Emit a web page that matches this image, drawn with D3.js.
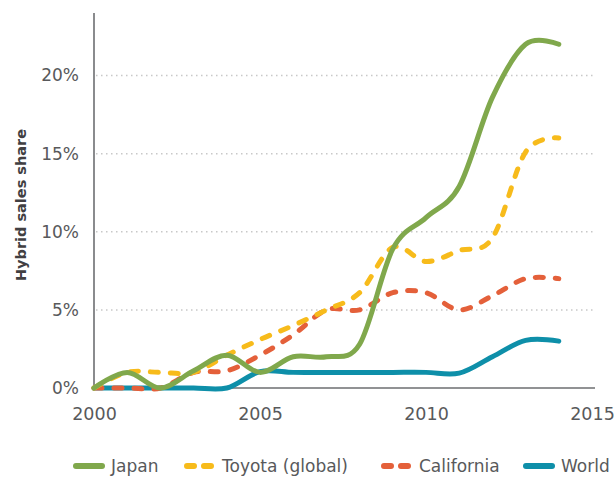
<!DOCTYPE html>
<html><head><meta charset="utf-8">
<script src="https://cdn.jsdelivr.net/npm/d3@7"></script>
<style>
html,body{margin:0;padding:0;background:#fff;}
svg{display:block;}
text{font-family:"DejaVu Sans", sans-serif;}
</style></head>
<body>
<script>
const years = [2000,2001,2002,2003,2004,2005,2006,2007,2008,2009,2010,2011,2012,2013,2014];
const japan      = [0,1.0,0,1.1,2.1,1.0,2.0,2.0,2.8,8.9,10.9,12.9,18.6,22.0,22.0];
const toyota     = [0,1.0,1.0,1.0,2.1,3.1,4.0,5.0,6.1,9.0,8.1,8.8,9.6,15.1,16.0];
const california = [0,0,0,1.0,1.1,2.1,3.4,5.0,5.0,6.1,6.1,5.0,5.9,7.0,7.0];
const world      = [0,0,0,0,0,1.05,1.0,1.0,1.0,1.0,1.0,0.95,2.0,3.05,3.0];
const seriesNames = ["Japan","Toyota (global)","California","World"];
const xTicks = [2000,2005,2010,2015];
const yTicks = [0,5,10,15,20];

const W=615,H=477;
const FONT='"DejaVu Sans", sans-serif';
const svg=d3.select("body").append("svg").attr("width",W).attr("height",H);
const x=d3.scaleLinear().domain([2000,2015]).range([94,592]);
const y=d3.scaleLinear().domain([0,24]).range([388,13]);

const series=[
 {name:seriesNames[0],vals:japan,color:"#80a84c",dash:null},
 {name:seriesNames[1],vals:toyota,color:"#f7bb1b",dash:"8 12"},
 {name:seriesNames[2],vals:california,color:"#e4603a",dash:"8 12"},
 {name:seriesNames[3],vals:world,color:"#0e8fa9",dash:null}
];

// gridlines
svg.append("g").selectAll("line").data(yTicks.filter(d=>d>0)).join("line")
 .attr("x1",96).attr("x2",595).attr("y1",d=>y(d)).attr("y2",d=>y(d))
 .attr("stroke","#c8c8c8").attr("stroke-width",1.5).attr("stroke-dasharray","1.5 3.5");

// y axis
const ya=svg.append("g").attr("transform","translate(94,0)")
 .call(d3.axisLeft(y).tickValues(yTicks).tickSize(0).tickPadding(15).tickFormat(d=>d+"%"));
ya.select(".domain").remove();
ya.selectAll("text").attr("font-size",17).attr("fill","#58595b")
 .style("font-family",FONT);
svg.append("line").attr("x1",94).attr("x2",94).attr("y1",13).attr("y2",388)
 .attr("stroke","#6d6e71").attr("stroke-width",1.6);

// x axis
const xa=svg.append("g").attr("transform","translate(0,388)")
 .call(d3.axisBottom(x).tickValues(xTicks).tickSize(0).tickPadding(20).tickFormat(d3.format("d")));
xa.select(".domain").remove();
xa.selectAll("text").attr("font-size",17.5).attr("fill","#58595b")
 .style("font-family",FONT);
svg.append("line").attr("x1",94).attr("x2",595).attr("y1",388).attr("y2",388)
 .attr("stroke","#6d6e71").attr("stroke-width",1.6);

// y title
svg.append("text").attr("transform","translate(26,205) rotate(-90)")
 .attr("text-anchor","middle").attr("font-size",14.5).attr("font-weight",700)
 .attr("fill","#414042").text("Hybrid sales share");

// lines
const line=d3.line().x((d,i)=>x(years[i])).y(d=>y(d)).curve(d3.curveCardinal.tension(0));
const order=[3,2,1,0];
svg.append("g").selectAll("path").data(order.map(i=>series[i])).join("path")
 .attr("d",d=>line(d.vals)).attr("fill","none").attr("stroke",d=>d.color)
 .attr("stroke-width",5).attr("stroke-linecap","round")
 .attr("stroke-dasharray",d=>d.dash);

// legend
const legX=[73,184,381,523];
const lg=svg.append("g").selectAll("g").data(series).join("g")
 .attr("transform",(d,i)=>`translate(${legX[i]},466)`);
lg.append("line").attr("x1",3).attr("x2",29).attr("y1",0).attr("y2",0)
 .attr("stroke",d=>d.color).attr("stroke-width",6).attr("stroke-linecap","round")
 .attr("stroke-dasharray",d=>d.dash?"7 10":null);
lg.append("text").attr("x",38).attr("y",6).attr("font-size",17).
 attr("fill","#58595b").text(d=>d.name);
</script>
</body></html>
